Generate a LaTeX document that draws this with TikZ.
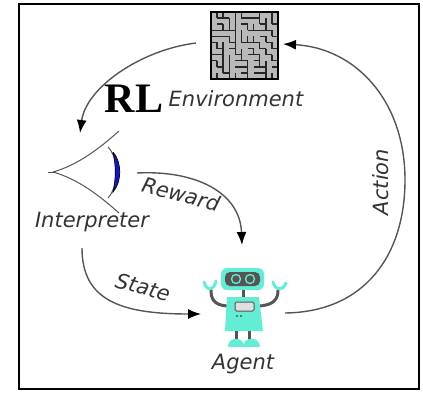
\documentclass[tikz,border=0pt]{standalone}
\usepackage{fontspec}
\usetikzlibrary{arrows.meta}
\newfontfamily\labelfont{DejaVu Sans}
\newfontfamily\rlfont{Liberation Serif}
\definecolor{linegray}{HTML}{555555}
\definecolor{robot}{HTML}{62EED4}
\definecolor{lens}{HTML}{1414D8}

\tikzset{
  lbl/.style={font=\labelfont\itshape\fontsize{21}{21}\selectfont, text=black!80, inner sep=0pt},
  flow/.style={draw=linegray, line width=1.4pt, -{Latex[length=13pt,width=10pt,color=black]}},
  wall/.style={black!85, line width=1.5pt},
  limb/.style={linegray, line width=3pt, line cap=round},
}

\begin{document}
\begin{tikzpicture}[x=1pt,y=-1pt]
\useasboundingbox (0,0) rectangle (423,392);
\draw [line width=2.5pt] (19,4) rectangle (419,389);

% environment: a little maze
\node [minimum size=67pt, inner sep=0pt, fill=gray!55] (env) at (244.5,45.5) {};
\pgfmathsetseed{11}
\foreach \i in {0,...,10}
  \foreach \j in {0,...,10} {
    \pgfmathrandominteger{\w}{0}{1}
    \ifnum\w=0
      \draw [wall] (211+\i*6.09,12+\j*6.09) -- ++(6.09,0);
    \else
      \draw [wall] (211+\i*6.09,12+\j*6.09) -- ++(0,6.09);
    \fi
  }
\draw [black, line width=1.8pt] (env.north west) rectangle (env.south east);
\node [lbl] (envtxt) at (236,99) {Environment};
\node [font=\rlfont\bfseries\fontsize{42}{42}\selectfont, inner sep=0pt] (rl) at (134,99) {RL};

% interpreter: the eye
\draw [linegray, line width=1pt] (48,172) -- (56,172);
\draw [linegray, line width=1pt] (53,172) .. controls (78,165) and (100,148) .. (119,131);
\draw [linegray, line width=1pt] (53,172) .. controls (78,179) and (100,196) .. (119,213);
\draw [linegray, line width=1pt] (108,147) .. controls (119,158) and (119,186) .. (108,198);
\filldraw [fill=lens, draw=black, line width=0.7pt] (113,152) .. controls (122,162) and (122,182) .. (113,192) .. controls (116,180) and (116,164) .. (113,152);
\node [lbl] (interptxt) at (92,222) {Interpreter};

% agent: the robot
\fill [robot, rounded corners=6pt] (221,268) rectangle (264,290);
\fill [linegray, rounded corners=5pt] (225,272) rectangle (260,286);
\draw [robot, line width=1.3pt, fill=linegray] (236,279) circle (4.5);
\draw [robot, line width=1.3pt, fill=linegray] (250,279) circle (4.5);
\draw [limb, line cap=butt] (243,290) -- (243,298);
\draw [limb] (227,306) .. controls (213,305) and (211,298) .. (211,290);
\draw [limb] (259,306) .. controls (275,305) and (278,298) .. (278,290);
\draw [robot, line width=3pt, line cap=round] (204,282) .. controls (206,291) and (214,291) .. (216,281);
\draw [robot, line width=3pt, line cap=round] (273,282) .. controls (275,291) and (283,291) .. (286,283);
\fill [robot] (227,297) -- (259,297) -- (263,331) -- (225,331) -- cycle;
\filldraw [fill=gray!25, draw=linegray, line width=1pt, rounded corners=1.5pt] (235,302) rectangle (254,311);
\fill [linegray] (237,316) circle (1.1) (241,316) circle (1.1);
\draw [limb, line cap=butt] (236,331) -- (236,340);
\draw [limb, line cap=butt] (249,331) -- (249,340);
\fill [robot] (228,347) .. controls (228,336) and (244,336) .. (244,347) -- cycle;
\fill [robot] (243,347) .. controls (243,336) and (260,336) .. (260,347) -- cycle;
\node [lbl] (agenttxt) at (243,364) {Agent};

% arrow ends
\coordinate (envin) at (283,44);
\coordinate (envout) at (196,43);
\coordinate (eyein) at (80,133);
\coordinate (eyeout) at (137,173);
\coordinate (eyedown) at (82,248);
\coordinate (agentin) at (242,245);
\coordinate (agentleft) at (201,314);
\coordinate (agentout) at (285,313);

\draw [flow] (envout) .. controls (140,50) and (86,88) .. (eyein);
\draw [flow] (eyeout) .. controls (195,170) and (240,192) .. (agentin);
\draw [flow] (eyedown) .. controls (82,300) and (120,314) .. (agentleft);
\draw [flow] (agentout) .. controls (365,312) and (405,255) .. (405,180) .. controls (405,100) and (355,48) .. (envin);

\node [lbl, rotate=-15] (rewardtxt) at (181,194) {Reward};
\node [lbl, rotate=-15] (statetxt) at (143,287) {State};
\node [lbl, rotate=90] (actiontxt) at (381,182) {Action};
\end{tikzpicture}
\end{document}
